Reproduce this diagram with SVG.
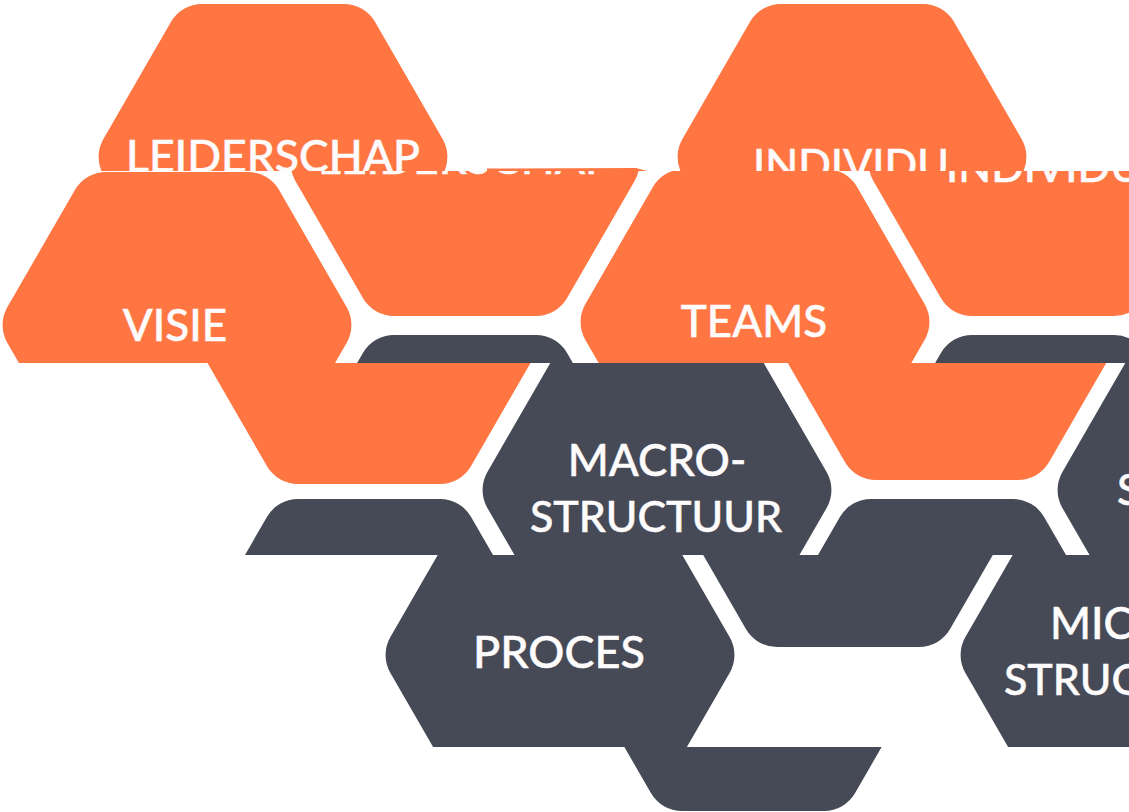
<svg xmlns="http://www.w3.org/2000/svg" width="1129" height="812" viewBox="0 0 1129 812">
<style>
.o{fill:#ff7643}.d{fill:#454a56}
text{font-family:"Lato","Noto Sans",sans-serif;font-size:43px;font-weight:500;fill:#fdfbfc;stroke:#fdfbfc;stroke-width:.5px;text-anchor:middle}
.l{font-size:44.500px}.m{font-size:44px}.p{font-size:45px}
</style>
<defs>
<path id="hex" d="M-71,-153H71A36,36 0 0 1 102.100,-135L169.600,-18A36,36 0 0 1 169.600,18L102.100,135A36,36 0 0 1 71,153H-71A36,36 0 0 1 -102.100,135L-169.600,18A36,36 0 0 1 -169.600,-18L-102.100,-135A36,36 0 0 1 -71,-153Z"/>
<clipPath id="s0"><rect x="0" y="0" width="1129" height="171"/></clipPath>
<clipPath id="s1"><rect x="0" y="171" width="1129" height="192"/></clipPath>
<clipPath id="s2"><rect x="0" y="363" width="1129" height="192"/></clipPath>
<clipPath id="s3"><rect x="0" y="555" width="1129" height="192"/></clipPath>
<clipPath id="s4"><rect x="0" y="747" width="1129" height="65"/></clipPath>
</defs>
<rect width="1129" height="812" fill="#fff"/>
<g id="connectors"/>
<g id="leiderschap" clip-path="url(#s0)"><use href="#hex" class="o" x="273" y="157"/><text class="l" x="273" y="172">LEIDERSCHAP</text></g>
<g id="individu" clip-path="url(#s0)"><use href="#hex" class="o" x="852" y="157"/><text x="851" y="180">INDIVIDU</text></g>
<g id="leiderschap-lower"><path class="o" d="M487,168.500L636,168L647,171H487Z"/><g clip-path="url(#s1)"><use href="#hex" class="o" x="465" y="163"/><text class="l" x="465" y="173.500">LEIDERSCHAP</text></g></g>
<g id="individu-lower" clip-path="url(#s1)"><use href="#hex" class="o" x="1043" y="163"/><text x="1044" y="182">INDIVIDU</text></g>
<g id="macro-top" clip-path="url(#s1)"><use href="#hex" class="d" x="465" y="488"/></g>
<g id="strategie-top" clip-path="url(#s1)"><use href="#hex" class="d" x="1043" y="488"/></g>
<g id="visie" clip-path="url(#s1)"><use href="#hex" class="o" x="177" y="325"/><text class="m" x="175" y="341">VISIE</text></g>
<g id="teams" clip-path="url(#s1)"><use href="#hex" class="o" x="755" y="322"/><text class="m" x="754" y="337">TEAMS</text></g>
<g id="visie-lower" clip-path="url(#s2)"><use href="#hex" class="o" x="369" y="331"/></g>
<g id="teams-lower" clip-path="url(#s2)"><use href="#hex" class="o" x="947" y="327"/></g>
<g id="macro" clip-path="url(#s2)"><use href="#hex" class="d" x="657" y="490"/><text class="m" x="657" y="476">MACRO-</text><text x="656" y="532">STRUCTUUR</text></g>
<g id="s-node" clip-path="url(#s2)"><use href="#hex" class="d" x="1232" y="490"/><text x="1117" y="505" style="text-anchor:start">S</text></g>
<g id="proces-top" clip-path="url(#s2)"><use href="#hex" class="d" x="369" y="652"/></g>
<g id="micro-top" clip-path="url(#s2)"><use href="#hex" class="d" x="942" y="652"/></g>
<g id="macro-lower" clip-path="url(#s3)"><use href="#hex" class="d" x="848" y="494"/></g>
<g id="proces" clip-path="url(#s3)"><use href="#hex" class="d" x="560" y="655"/><text class="p" x="559" y="668">PROCES</text></g>
<g id="micro" clip-path="url(#s3)"><use href="#hex" class="d" x="1135" y="655"/><text class="m" x="1131" y="639">MICRO-</text><text x="1130" y="695">STRUCTUUR</text></g>
<g id="proces-lower" clip-path="url(#s4)"><use href="#hex" class="d" x="753" y="658"/></g>
</svg>
